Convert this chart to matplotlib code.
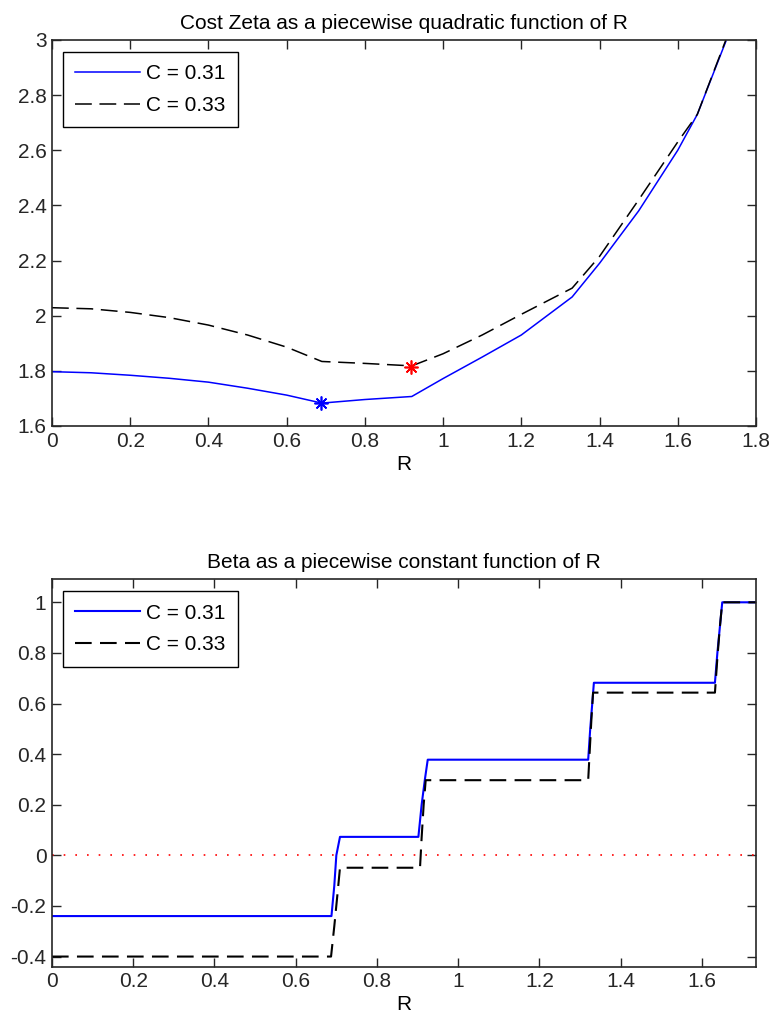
import numpy as np
import matplotlib
matplotlib.use("Agg")
import matplotlib.pyplot as plt

plt.rcParams['font.family'] = ['Liberation Sans', 'DejaVu Sans']
plt.rcParams['font.size'] = 15

# cost zeta as function of R
R_zeta = [0, 0.1, 0.2, 0.3, 0.4, 0.5, 0.6, 0.69, 0.8, 0.92,
          1.0, 1.1, 1.2, 1.33, 1.4, 1.5, 1.6, 1.65, 1.723]
zeta_031 = [1.797, 1.793, 1.784, 1.773, 1.759, 1.737, 1.712, 1.683, 1.696, 1.707,
            1.772, 1.850, 1.930, 2.068, 2.190, 2.380, 2.600, 2.730, 2.995]
zeta_033 = [2.029, 2.025, 2.012, 1.993, 1.966, 1.930, 1.886, 1.834, 1.827, 1.818,
            1.862, 1.930, 2.005, 2.100, 2.215, 2.420, 2.630, 2.730, 3.000]
min_031 = (0.689, 1.682)
min_033 = (0.918, 1.815)

# beta as function of R
R_beta_031 = [0, 0.688, 0.695, 0.700, 0.709, 0.902, 0.910, 0.918, 0.925,
              1.320, 1.325, 1.330, 1.334, 1.632, 1.638, 1.644, 1.650, 1.733]
beta_031 = [-0.24, -0.24, -0.12, 0.0, 0.073, 0.073, 0.2, 0.3, 0.378,
            0.378, 0.5, 0.6, 0.682, 0.682, 0.8, 0.9, 1.0, 1.0]
R_beta_033 = [0, 0.687, 0.695, 0.703, 0.709, 0.906, 0.910, 0.915, 0.920,
              1.320, 1.324, 1.328, 1.332, 1.632, 1.638, 1.644, 1.650, 1.733]
beta_033 = [-0.40, -0.40, -0.28, -0.15, -0.049, -0.049, 0.07, 0.2, 0.297,
            0.297, 0.42, 0.54, 0.643, 0.643, 0.78, 0.9, 1.0, 1.0]

labels = ['C = 0.31', 'C = 0.33']


def matlab_axes(ax):
    ax.tick_params(direction='in', top=True, right=True, length=6.5, width=1,
                   labelsize=15, pad=4, colors='#262626')
    for s in ax.spines.values():
        s.set_linewidth(1.2)
        s.set_color('#262626')


def matlab_legend(ax):
    leg = ax.legend(loc='upper left', fancybox=False, edgecolor='black', framealpha=1,
                    handlelength=3.1, handletextpad=0.3, borderpad=0.6,
                    labelspacing=0.6, fontsize=15, borderaxespad=0,
                    bbox_to_anchor=(0.0156, 0.969))
    leg.get_frame().set_linewidth(1.0)
    return leg


fig = plt.figure(figsize=(7.71, 10.25), dpi=100)

# top panel
ax1 = fig.add_axes([0.0674, 0.5844, 0.9131, 0.3766])
ax1.plot(R_zeta, zeta_031, color='blue', lw=1.1, label=labels[0])
ax1.plot(R_zeta, zeta_033, color='black', lw=1.1, dashes=[11, 5], label=labels[1])
ax1.plot(*min_031, marker=(8, 2, 0), color='blue', ms=10, mew=1.2)
ax1.plot(*min_033, marker=(8, 2, 0), color='red', ms=10, mew=1.2)
ax1.set_xlim(0, 1.8)
ax1.set_ylim(1.6, 3.0)
ax1.set_xticks(np.arange(0, 1.81, 0.2))
ax1.set_xticklabels(['0', '0.2', '0.4', '0.6', '0.8', '1', '1.2', '1.4', '1.6', '1.8'])
ax1.set_yticks(np.arange(1.6, 3.01, 0.2))
ax1.set_yticklabels(['1.6', '1.8', '2', '2.2', '2.4', '2.6', '2.8', '3'])
ax1.set_xlabel('R', fontsize=15, labelpad=3)
ax1.set_title('Cost Zeta as a piecewise quadratic function of R', fontsize=15, pad=8)
matlab_axes(ax1)
matlab_legend(ax1)

# bottom panel
ax2 = fig.add_axes([0.0674, 0.0569, 0.9131, 0.3782])
ax2.plot(R_beta_031, beta_031, color='blue', lw=1.5, label=labels[0])
ax2.plot(R_beta_033, beta_033, color='black', lw=1.5, dashes=[8, 4], label=labels[1])
ax2.axhline(0, color='red', lw=1.2, ls=(0, (1, 6)))
ax2.set_xlim(0, 1.733)
ax2.set_ylim(-0.44, 1.092)
ax2.set_xticks(np.arange(0, 1.61, 0.2))
ax2.set_xticklabels(['0', '0.2', '0.4', '0.6', '0.8', '1', '1.2', '1.4', '1.6'])
ax2.set_yticks(np.arange(-0.4, 1.01, 0.2))
ax2.set_yticklabels(['-0.4', '-0.2', '0', '0.2', '0.4', '0.6', '0.8', '1'])
ax2.set_xlabel('R', fontsize=15, labelpad=3)
ax2.set_title('Beta as a piecewise constant function of R', fontsize=15, pad=8)
matlab_axes(ax2)
matlab_legend(ax2)

fig.savefig('out.png', dpi=100)
